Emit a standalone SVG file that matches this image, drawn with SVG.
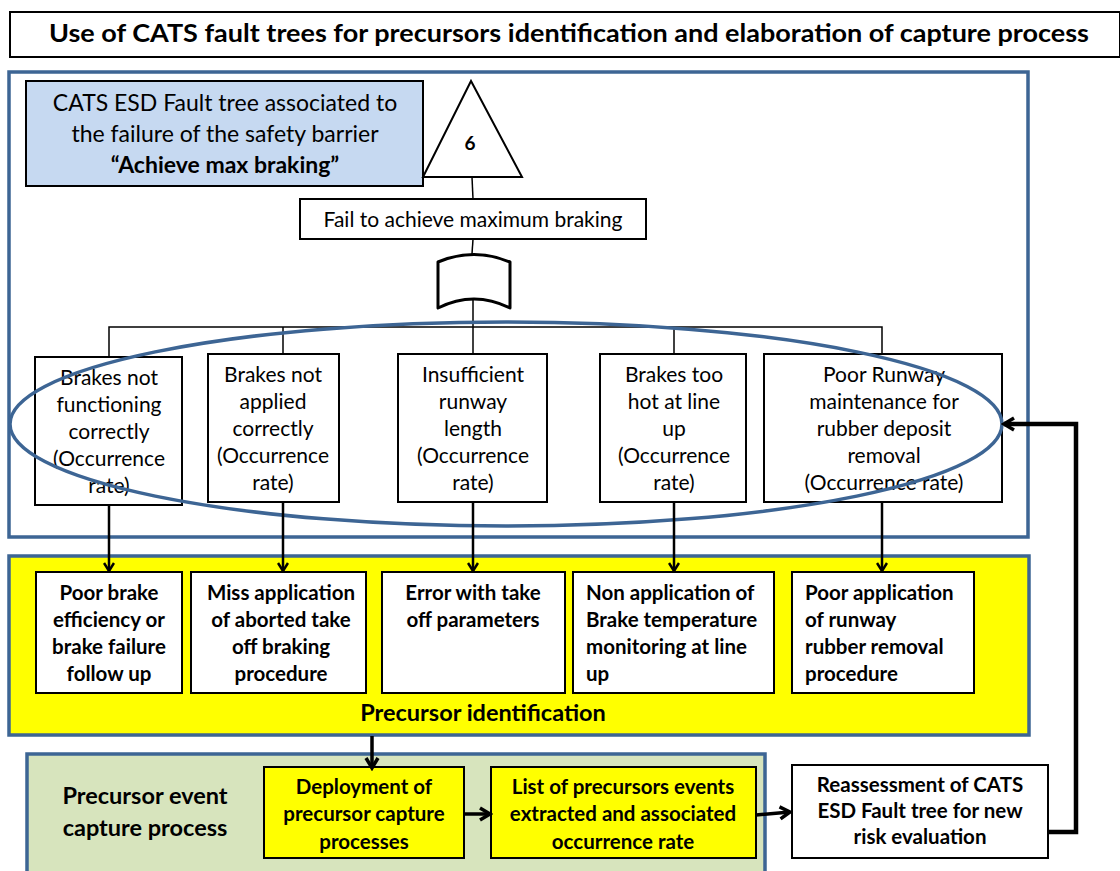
<svg xmlns="http://www.w3.org/2000/svg" width="1120" height="871" viewBox="0 0 1120 871">
<defs>
<marker id="arr" markerWidth="12" markerHeight="12" refX="10" refY="6" orient="auto" markerUnits="userSpaceOnUse">
<path d="M2,1 L10,6 L2,11" fill="none" stroke="#000" stroke-width="2.5"/>
</marker>
<marker id="arrB" markerWidth="16" markerHeight="16" refX="13" refY="8" orient="auto" markerUnits="userSpaceOnUse">
<path d="M3,2 L13,8 L3,14" fill="none" stroke="#000" stroke-width="3.5"/>
</marker>
</defs>
<style>
text{font-family:Lato,"Open Sans","Liberation Sans",sans-serif;fill:#000}
.r{font-size:21px;text-anchor:middle}
.b{font-size:20.5px;font-weight:bold;text-anchor:middle}
.bl{font-size:20.5px;font-weight:bold}
.box{fill:#fff;stroke:#000;stroke-width:2}
.frame{stroke:#3D6594;stroke-width:3.5}
.ln{stroke:#000;stroke-width:1.5;fill:none}
.ar{stroke:#000;stroke-width:2.5;fill:none}
.ab{stroke:#000;stroke-width:3.5;fill:none}
</style>
<rect width="1120" height="871" fill="#fff"/>

<g id="title">
<rect x="10" y="12" width="1110" height="45" fill="#fff" stroke="#000" stroke-width="2"/>
<text x="569" y="42" textLength="1040" lengthAdjust="spacingAndGlyphs" style="font-size:25px;font-weight:bold;text-anchor:middle">Use of CATS fault trees for precursors identification and elaboration of capture process</text>
</g>

<g id="fault-tree-frame">
<rect x="9" y="72" width="1019" height="465" fill="#fff" class="frame"/>
</g>

<g id="label-box">
<rect x="26" y="81" width="397" height="105" fill="#C6D9F1" stroke="#000" stroke-width="2"/>
<text x="225" y="111" style="font-size:23px;text-anchor:middle">CATS ESD Fault tree associated to</text>
<text x="225" y="142" style="font-size:23px;text-anchor:middle">the failure of the safety barrier</text>
<text x="225" y="173" style="font-size:23px;font-weight:bold;text-anchor:middle">“Achieve max braking”</text>
</g>

<g id="transfer-6">
<polygon points="471,81 423,177 522,177" fill="#fff" stroke="#000" stroke-width="2"/>
<text x="470" y="150" style="font-size:19px;font-weight:bold;text-anchor:middle">6</text>
</g>

<g id="top-event">
<rect x="300" y="199" width="346" height="40" class="box"/>
<text x="473" y="227" class="r">Fail to achieve maximum braking</text>
</g>

<g id="or-gate">
<path d="M438,308 L438,262 Q474,247 510,262 L510,308 Q474,290 438,308 Z" fill="#fff" stroke="#000" stroke-width="3" stroke-linejoin="round"/>
</g>

<g id="tree-lines">
<line x1="472" y1="177" x2="473" y2="199" class="ln"/>
<line x1="473" y1="239" x2="472" y2="254" class="ln"/>
<line x1="473" y1="299" x2="473" y2="327" class="ln"/>
<polyline points="109,357 109,327 882,327 882,354" class="ln"/>
<line x1="283" y1="327" x2="283" y2="354" class="ln"/>
<line x1="473" y1="327" x2="473" y2="354" class="ln"/>
<line x1="674" y1="327" x2="674" y2="354" class="ln"/>
</g>

<g id="ft-box-1">
<rect x="35" y="357" width="147" height="148" class="box"/>
<text x="109" y="385" class="r">Brakes not</text>
<text x="109" y="412" class="r">functioning</text>
<text x="109" y="439" class="r">correctly</text>
<text x="109" y="466" class="r">(Occurrence</text>
<text x="109" y="493" class="r">rate)</text>
</g>
<g id="ft-box-2">
<rect x="208" y="354" width="131" height="148" class="box"/>
<text x="273" y="382" class="r">Brakes  not</text>
<text x="273" y="409" class="r">applied</text>
<text x="273" y="436" class="r">correctly</text>
<text x="273" y="463" class="r">(Occurrence</text>
<text x="273" y="490" class="r">rate)</text>
</g>
<g id="ft-box-3">
<rect x="398" y="354" width="149" height="148" class="box"/>
<text x="473" y="382" class="r">Insufficient</text>
<text x="473" y="409" class="r">runway</text>
<text x="473" y="436" class="r">length</text>
<text x="473" y="463" class="r">(Occurrence</text>
<text x="473" y="490" class="r">rate)</text>
</g>
<g id="ft-box-4">
<rect x="600" y="354" width="146" height="148" class="box"/>
<text x="674" y="382" class="r">Brakes  too</text>
<text x="674" y="409" class="r">hot at line</text>
<text x="674" y="436" class="r">up</text>
<text x="674" y="463" class="r">(Occurrence</text>
<text x="674" y="490" class="r">rate)</text>
</g>
<g id="ft-box-5">
<rect x="764" y="354" width="238" height="148" class="box"/>
<text x="884" y="382" class="r">Poor Runway</text>
<text x="884" y="409" class="r">maintenance for</text>
<text x="884" y="436" class="r">rubber deposit</text>
<text x="884" y="463" class="r">removal</text>
<text x="884" y="490" class="r">(Occurrence rate)</text>
</g>

<g id="ellipse">
<ellipse cx="506" cy="424" rx="496" ry="102" fill="none" stroke="#3D6594" stroke-width="3.5"/>
</g>

<g id="precursor-frame">
<rect x="9" y="556" width="1020" height="179" fill="#FFFF00" class="frame"/>
<text x="483" y="721" style="font-size:23.5px;font-weight:bold;text-anchor:middle">Precursor identification</text>
</g>

<g id="pi-box-1">
<rect x="36" y="572" width="146" height="121" class="box"/>
<text x="109" y="600" class="b">Poor brake</text>
<text x="109" y="627" class="b">efficiency or</text>
<text x="109" y="654" class="b">brake failure</text>
<text x="109" y="681" class="b">follow up</text>
</g>
<g id="pi-box-2">
<rect x="191" y="572" width="175" height="121" class="box"/>
<text x="281" y="600" class="b">Miss application</text>
<text x="281" y="627" class="b">of aborted take</text>
<text x="281" y="654" class="b">off braking</text>
<text x="281" y="681" class="b">procedure</text>
</g>
<g id="pi-box-3">
<rect x="382" y="572" width="183" height="121" class="box"/>
<text x="473" y="600" class="b">Error with  take</text>
<text x="473" y="627" class="b">off parameters</text>
</g>
<g id="pi-box-4">
<rect x="573" y="572" width="201" height="121" class="box"/>
<text x="586" y="600" class="bl">Non application of</text>
<text x="586" y="627" class="bl">Brake temperature</text>
<text x="586" y="654" class="bl">monitoring at line</text>
<text x="586" y="681" class="bl">up</text>
</g>
<g id="pi-box-5">
<rect x="792" y="572" width="182" height="121" class="box"/>
<text x="805" y="600" class="bl">Poor application</text>
<text x="805" y="627" class="bl">of runway</text>
<text x="805" y="654" class="bl">rubber removal</text>
<text x="805" y="681" class="bl">procedure</text>
</g>

<g id="capture-frame">
<rect x="27" y="754" width="738" height="125" fill="#D7E4BD" class="frame"/>
<text x="145" y="804" style="font-size:23.5px;font-weight:bold;text-anchor:middle">Precursor event</text>
<text x="145" y="836" style="font-size:23.5px;font-weight:bold;text-anchor:middle">capture process</text>
</g>

<g id="deployment">
<rect x="264" y="767" width="200" height="91" fill="#FFFF00" stroke="#000" stroke-width="2"/>
<text x="364" y="794" class="b">Deployment of</text>
<text x="364" y="821" class="b">precursor capture</text>
<text x="364" y="849" class="b">processes</text>
</g>
<g id="list">
<rect x="491" y="767" width="265" height="91" fill="#FFFF00" stroke="#000" stroke-width="2"/>
<text x="623" y="794" class="b">List of precursors events</text>
<text x="623" y="821" class="b">extracted and associated</text>
<text x="623" y="849" class="b">occurrence rate</text>
</g>
<g id="reassessment">
<rect x="792" y="765" width="256" height="93" class="box"/>
<text x="920" y="792" class="b">Reassessment of CATS</text>
<text x="920" y="818" class="b">ESD Fault tree for new</text>
<text x="920" y="844" class="b">risk evaluation</text>
</g>

<g id="connectors">
<line x1="109" y1="505" x2="109" y2="571" class="ar" marker-end="url(#arr)"/>
<line x1="283" y1="502" x2="283" y2="571" class="ar" marker-end="url(#arr)"/>
<line x1="473" y1="502" x2="473" y2="571" class="ar" marker-end="url(#arr)"/>
<line x1="674" y1="502" x2="674" y2="571" class="ar" marker-end="url(#arr)"/>
<line x1="882" y1="502" x2="882" y2="571" class="ar" marker-end="url(#arr)"/>
<line x1="372" y1="736" x2="372" y2="768" class="ab" marker-end="url(#arrB)"/>
<line x1="464" y1="814" x2="490" y2="814" class="ab" marker-end="url(#arrB)"/>
<line x1="756" y1="815" x2="790" y2="812" class="ab" marker-end="url(#arrB)"/>
<polyline points="1048,832 1076,832 1076,424 1004,424" style="fill:none;stroke:#000;stroke-width:4.5" marker-end="url(#arrB)"/>
</g>
</svg>
